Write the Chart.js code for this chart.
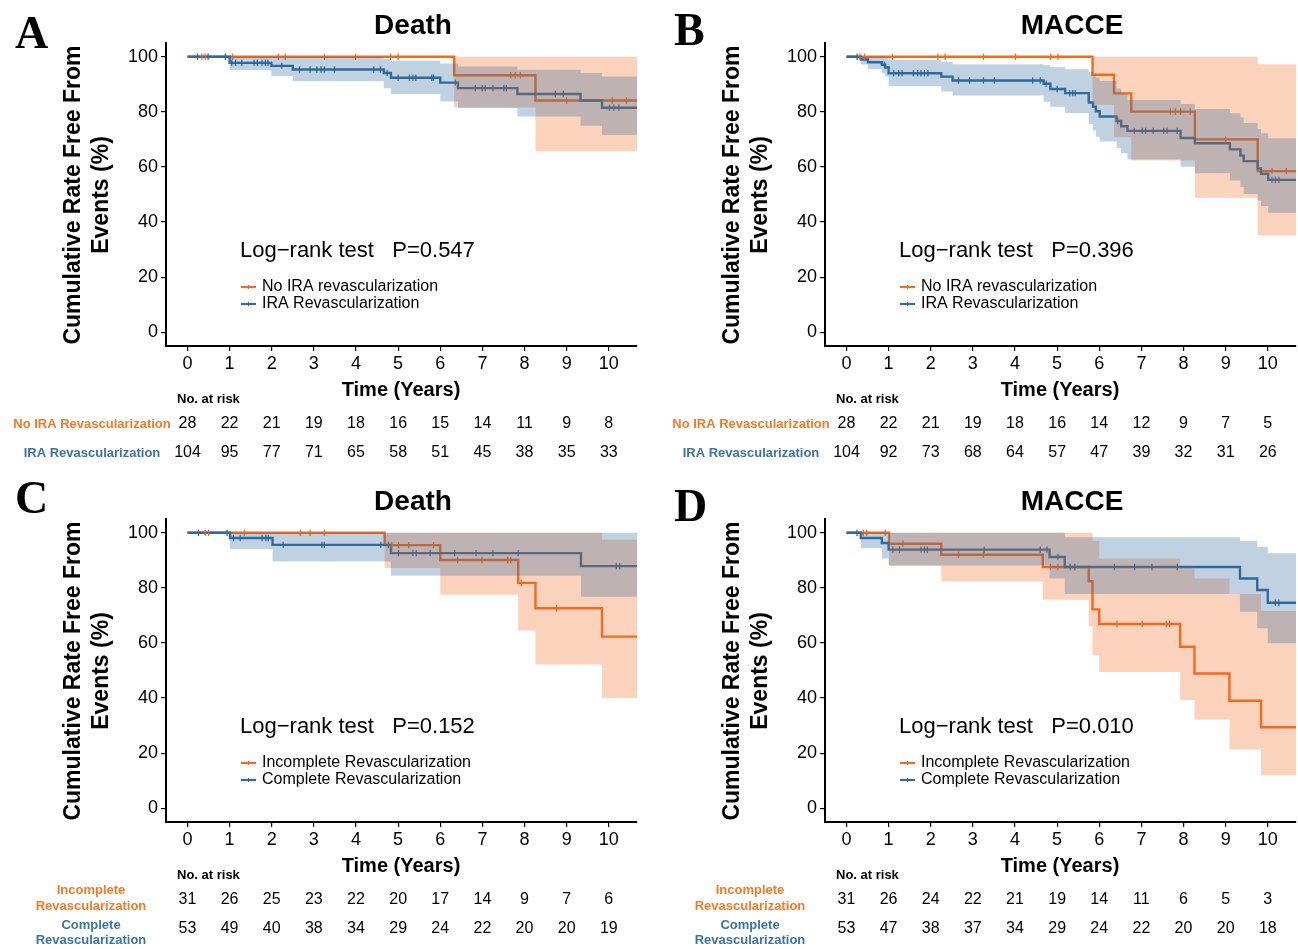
<!DOCTYPE html>
<html>
<head>
<meta charset="utf-8">
<script src="https://cdn.jsdelivr.net/npm/chart.js@4.4.1/dist/chart.umd.min.js"></script>
<style>
  html, body { margin: 0; padding: 0; background: #fff; }
  body { width: 1298px; height: 949px; position: relative; overflow: hidden; }
  canvas { position: absolute; }
</style>
</head>
<body>
<canvas id="cA" width="640" height="476" style="left:0px;top:0px"></canvas>
<canvas id="cB" width="639" height="476" style="left:659px;top:0px"></canvas>
<canvas id="cC" width="640" height="473" style="left:0px;top:476px"></canvas>
<canvas id="cD" width="639" height="473" style="left:659px;top:476px"></canvas>
<script>
// ---------------- DATA ----------------
const xTicks = [0, 1, 2, 3, 4, 5, 6, 7, 8, 9, 10];
const yTicks = [0, 20, 40, 60, 80, 100];

const panelLetters = ['A', 'B', 'C', 'D'];
const panelTitles = ['Death', 'MACCE', 'Death', 'MACCE'];
const pValues = ['0.547', '0.396', '0.152', '0.010'];
const legendIRA = ['No IRA revascularization', 'IRA Revascularization'];
const legendCR = ['Incomplete Revascularization', 'Complete Revascularization'];
const riskLabelsIRA = [['No IRA Revascularization'], ['IRA Revascularization']];
const riskLabelsCR = [['Incomplete', 'Revascularization'], ['Complete', 'Revascularization']];

// Panel A: Death, No IRA (orange) vs IRA (blue)
const A_orange_t = [0, 6.33, 8.26];
const A_orange_s = [100, 93.3, 84.1];
const A_orange_lo = [100, 81.6, 65.7];
const A_orange_hi = [100, 100, 100];
const A_orange_cens = [0.34, 0.42, 1.07, 2.16, 2.32, 3.25, 3.99, 4.82, 5.0, 7.67, 7.78, 7.9, 9.0, 10.08, 10.42];
const A_blue_t = [0, 1.0, 1.99, 2.5, 4.66, 4.83, 6.0, 6.42, 7.83, 9.33, 9.84];
const A_blue_s = [100, 97.8, 96.7, 95.4, 94.1, 92.4, 90.6, 88.6, 86.5, 84.1, 81.5];
const A_blue_lo = [100, 95.2, 93.0, 91.1, 88.6, 86.5, 83.8, 81.4, 78.3, 75.0, 71.6];
const A_blue_hi = [100, 100, 100, 100, 99.2, 98.6, 97.6, 96.5, 95.3, 94.1, 92.8];
const A_blue_cens = [0.24, 0.49, 0.9, 1.05, 1.14, 1.29, 1.58, 1.66, 1.77, 1.85, 1.91, 2.24, 2.66, 2.91, 3.07, 3.17, 3.25, 3.49, 4.42, 4.58, 4.74, 5.0, 5.27, 5.35, 5.42, 5.8, 5.84, 6.36, 6.83, 7.0, 7.07, 7.25, 7.51, 7.57, 8.73, 8.92, 10.02, 10.12, 10.24];
const A_risk_orange = [28, 22, 21, 19, 18, 16, 15, 14, 11, 9, 8];
const A_risk_blue = [104, 95, 77, 71, 65, 58, 51, 45, 38, 35, 33];

// Panel B: MACCE, No IRA (orange) vs IRA (blue)
const B_orange_t = [0, 5.84, 6.35, 6.76, 8.27, 9.76];
const B_orange_s = [100, 93.5, 86.7, 80.1, 70.0, 58.5];
const B_orange_lo = [100, 82.6, 70.8, 62.3, 48.8, 35.1];
const B_orange_hi = [100, 100, 100, 100, 100, 97.3];
const B_orange_cens = [0.32, 0.43, 1.09, 2.17, 2.34, 3.25, 4.01, 4.85, 5.02, 7.69, 7.81, 7.93, 8.16, 9.0, 10.1, 10.44];
const B_blue_t = [0, 0.34, 0.51, 0.84, 0.92, 1.0, 2.25, 2.52, 4.68, 4.84, 5.19, 5.75, 5.85, 5.92, 6.01, 6.41, 6.52, 6.67, 7.93, 8.27, 9.1, 9.35, 9.43, 9.76, 9.84, 10.01];
const B_blue_s = [100, 99.0, 98.0, 97.1, 96.1, 94.0, 92.8, 91.4, 90.2, 88.3, 86.8, 83.4, 81.9, 80.2, 78.3, 76.7, 74.8, 73.1, 70.5, 68.6, 66.4, 64.1, 62.1, 59.5, 57.5, 55.3];
const B_blue_lo = [100, 97.2, 95.5, 94.0, 92.8, 89.3, 87.4, 85.9, 83.7, 81.9, 79.6, 75.6, 73.2, 71.0, 69.2, 66.9, 65.0, 62.7, 60.1, 57.7, 55.1, 52.7, 50.2, 47.8, 45.8, 43.4];
const B_blue_hi = [100, 100, 100, 100, 99.8, 98.8, 98.2, 97.3, 96.9, 96.2, 95.5, 94.6, 93.5, 92.4, 91.2, 88.5, 86.5, 84.3, 82.9, 81.0, 79.5, 78.0, 76.0, 73.8, 72.2, 70.4];
const B_blue_cens = [0.25, 0.9, 1.12, 1.24, 1.32, 1.59, 1.69, 1.77, 1.85, 1.93, 2.66, 2.92, 3.25, 3.51, 4.42, 4.6, 4.74, 5.0, 5.3, 5.37, 5.43, 6.44, 6.83, 7.02, 7.1, 7.28, 7.53, 7.61, 7.85, 10.1, 10.18, 10.26];
const B_risk_orange = [28, 22, 21, 19, 18, 16, 14, 12, 9, 7, 5];
const B_risk_blue = [104, 92, 73, 68, 64, 57, 47, 39, 32, 31, 26];

// Panel C: Death, Incomplete (orange) vs Complete (blue)
const C_orange_t = [0, 4.68, 6.0, 7.85, 8.26, 9.84];
const C_orange_s = [100, 95.5, 90.1, 81.8, 72.6, 62.3];
const C_orange_lo = [100, 87.2, 77.5, 64.5, 52.2, 40.0];
const C_orange_hi = [100, 100, 100, 100, 100, 97.5];
const C_orange_cens = [0.42, 0.5, 1.35, 2.68, 2.91, 3.25, 4.85, 5.01, 5.25, 5.84, 6.41, 6.99, 7.6, 7.67, 7.92, 8.76];
const C_blue_t = [0, 1.01, 2.02, 4.83, 9.34];
const C_blue_s = [100, 98.1, 95.6, 92.6, 87.9];
const C_blue_lo = [100, 94.1, 89.6, 84.4, 76.8];
const C_blue_hi = [100, 100, 100, 100, 100];
const C_blue_cens = [0.26, 0.94, 1.09, 1.25, 1.77, 1.86, 1.92, 2.27, 3.19, 3.25, 4.59, 4.77, 5.01, 5.35, 5.43, 5.76, 6.34, 6.85, 7.25, 7.85, 10.18, 10.26];
const C_risk_orange = [31, 26, 25, 23, 22, 20, 17, 14, 9, 7, 6];
const C_risk_blue = [53, 49, 40, 38, 34, 29, 24, 22, 20, 20, 19];

// Panel D: MACCE, Incomplete (orange) vs Complete (blue)
const D_orange_t = [0, 1.01, 2.25, 4.66, 5.75, 5.84, 6.0, 7.92, 8.26, 9.09, 9.84];
const D_orange_s = [100, 96.0, 92.0, 87.6, 82.4, 72.2, 66.9, 58.6, 48.9, 39.0, 29.4];
const D_orange_lo = [100, 88.0, 82.3, 75.7, 66.0, 55.5, 49.5, 39.3, 32.1, 21.3, 12.0];
const D_orange_hi = [100, 100, 100, 100, 100, 97.0, 90.7, 87.4, 83.4, 77.8, 71.6];
const D_orange_cens = [0.4, 0.48, 0.92, 1.34, 2.66, 3.25, 4.84, 5.02, 6.42, 7.02, 7.59, 7.67];
const D_blue_t = [0, 0.34, 0.84, 1.0, 4.82, 5.18, 9.34, 9.75, 10.0];
const D_blue_s = [100, 98.1, 96.3, 93.9, 91.2, 87.6, 83.4, 79.2, 74.6];
const D_blue_lo = [100, 94.5, 90.7, 88.1, 83.4, 77.8, 71.3, 65.3, 59.9];
const D_blue_hi = [100, 100, 100, 100, 100, 98.4, 97.1, 94.9, 92.6];
const D_blue_cens = [0.25, 1.1, 1.26, 1.77, 1.85, 1.92, 3.27, 4.6, 4.76, 5.02, 5.31, 5.42, 6.36, 6.84, 7.25, 7.85, 10.18, 10.26];
const D_risk_orange = [31, 26, 24, 22, 21, 19, 14, 11, 6, 5, 3];
const D_risk_blue = [53, 47, 38, 37, 34, 29, 24, 22, 20, 20, 18];

// ---------------- STYLE ----------------
const ORANGE = '#F26B1F';
const BLUE = '#2F6B9C';
const ORANGE_BAND = 'rgba(242,107,31,0.3)';
const BLUE_BAND = 'rgba(47,107,156,0.3)';
const ORANGE_TXT = '#F37A2A';
const BLUE_TXT = '#3A74A6';
const FONT = '"Liberation Sans", Arial, Helvetica, sans-serif';
const SERIF = '"Liberation Serif", "Times New Roman", serif';
const X_MIN = -0.51, X_MAX = 10.67, Y_MIN = -5, Y_MAX = 105;
const PLOT_LEFT = 166, PLOT_RIGHT = 637, PLOT_TOP = 43, PLOT_BOTTOM = 346;

function stepPoints(t, v) {
  const pts = t.map((x, i) => ({ x: x, y: v[i] }));
  pts.push({ x: X_MAX, y: v[v.length - 1] });
  return pts;
}
function valueAt(t, v, x) {
  let r = v[0];
  for (let i = 0; i < t.length; i++) if (t[i] <= x) r = v[i];
  return r;
}
function censorPoints(t, v, c) {
  return c.map(x => ({ x: x, y: valueAt(t, v, x) }));
}

function buildDatasets(o, b) {
  const common = { stepped: 'before', pointRadius: 0, tension: 0 };
  return [
    Object.assign({ data: stepPoints(b.t, b.hi), borderWidth: 0, borderColor: 'rgba(0,0,0,0)', backgroundColor: BLUE_BAND, fill: '+1' }, common),
    Object.assign({ data: stepPoints(b.t, b.lo), borderWidth: 0, borderColor: 'rgba(0,0,0,0)', fill: false }, common),
    Object.assign({ data: stepPoints(o.t, o.hi), borderWidth: 0, borderColor: 'rgba(0,0,0,0)', backgroundColor: ORANGE_BAND, fill: '+1' }, common),
    Object.assign({ data: stepPoints(o.t, o.lo), borderWidth: 0, borderColor: 'rgba(0,0,0,0)', fill: false }, common),
    { data: censorPoints(b.t, b.s, b.cens), showLine: false, pointStyle: 'line', pointRotation: 90, pointRadius: 3.2, pointBorderWidth: 1.3, pointBorderColor: BLUE, pointBackgroundColor: BLUE, borderColor: BLUE, fill: false },
    { data: censorPoints(o.t, o.s, o.cens), showLine: false, pointStyle: 'line', pointRotation: 90, pointRadius: 3.2, pointBorderWidth: 1.3, pointBorderColor: ORANGE, pointBackgroundColor: ORANGE, borderColor: ORANGE, fill: false },
    Object.assign({ data: stepPoints(b.t, b.s), borderWidth: 2.4, borderColor: BLUE, fill: false }, common),
    Object.assign({ data: stepPoints(o.t, o.s), borderWidth: 2.4, borderColor: ORANGE, fill: false }, common)
  ];
}

const panelDefs = [
  { canvas: 'cA', letter: panelLetters[0], title: panelTitles[0], p: pValues[0], legend: legendIRA, riskLabels: riskLabelsIRA, letterY: 48,
    o: { t: A_orange_t, s: A_orange_s, lo: A_orange_lo, hi: A_orange_hi, cens: A_orange_cens },
    b: { t: A_blue_t, s: A_blue_s, lo: A_blue_lo, hi: A_blue_hi, cens: A_blue_cens },
    riskO: A_risk_orange, riskB: A_risk_blue },
  { canvas: 'cB', letter: panelLetters[1], title: panelTitles[1], p: pValues[1], legend: legendIRA, riskLabels: riskLabelsIRA, letterY: 45,
    o: { t: B_orange_t, s: B_orange_s, lo: B_orange_lo, hi: B_orange_hi, cens: B_orange_cens },
    b: { t: B_blue_t, s: B_blue_s, lo: B_blue_lo, hi: B_blue_hi, cens: B_blue_cens },
    riskO: B_risk_orange, riskB: B_risk_blue },
  { canvas: 'cC', letter: panelLetters[2], title: panelTitles[2], p: pValues[2], legend: legendCR, riskLabels: riskLabelsCR, letterY: 37,
    o: { t: C_orange_t, s: C_orange_s, lo: C_orange_lo, hi: C_orange_hi, cens: C_orange_cens },
    b: { t: C_blue_t, s: C_blue_s, lo: C_blue_lo, hi: C_blue_hi, cens: C_blue_cens },
    riskO: C_risk_orange, riskB: C_risk_blue },
  { canvas: 'cD', letter: panelLetters[3], title: panelTitles[3], p: pValues[3], legend: legendCR, riskLabels: riskLabelsCR, letterY: 45,
    o: { t: D_orange_t, s: D_orange_s, lo: D_orange_lo, hi: D_orange_hi, cens: D_orange_cens },
    b: { t: D_blue_t, s: D_blue_s, lo: D_blue_lo, hi: D_blue_hi, cens: D_blue_cens },
    riskO: D_risk_orange, riskB: D_risk_blue }
];

const decorPlugin = {
  id: 'decor',
  afterDraw(chart) {
    const pd = chart.options.plugins.decor.panel;
    const ctx = chart.ctx;
    const xs = chart.scales.x;
    ctx.save();
    ctx.fillStyle = '#000';
    // panel letter
    ctx.font = 'bold 46px ' + SERIF;
    ctx.textAlign = 'left'; ctx.textBaseline = 'alphabetic';
    ctx.fillText(pd.letter, 15, pd.letterY);
    // title
    ctx.font = 'bold 28px ' + FONT;
    ctx.textAlign = 'center'; ctx.textBaseline = 'middle';
    ctx.fillText(pd.title, 413, 26);
    // y title
    ctx.save();
    ctx.translate(74, 195);
    ctx.rotate(-Math.PI / 2);
    ctx.font = 'bold 23px ' + FONT;
    ctx.textAlign = 'center'; ctx.textBaseline = 'middle';
    ctx.fillText('Cumulative Rate Free From', 0, 0);
    ctx.fillText('Events (%)', 0, 28);
    ctx.restore();
    // x title
    ctx.font = 'bold 20px ' + FONT;
    ctx.textAlign = 'center'; ctx.textBaseline = 'middle';
    ctx.fillText('Time (Years)', 401, 390);
    // log-rank text
    ctx.font = '22px ' + FONT;
    ctx.textAlign = 'left';
    ctx.fillText('Log\u2212rank test   P=' + pd.p, 240, 251);
    // legend
    ctx.font = '16px ' + FONT;
    const lg = [[ORANGE, 287], [BLUE, 304]];
    for (let i = 0; i < 2; i++) {
      ctx.strokeStyle = lg[i][0];
      ctx.lineWidth = 2.2;
      ctx.beginPath(); ctx.moveTo(241, lg[i][1]); ctx.lineTo(256, lg[i][1]); ctx.stroke();
      ctx.lineWidth = 1;
      ctx.beginPath(); ctx.moveTo(248.5, lg[i][1] - 2); ctx.lineTo(248.5, lg[i][1] + 2); ctx.stroke();
      ctx.fillStyle = '#000';
      ctx.fillText(pd.legend[i], 262, lg[i][1]);
    }
    // risk table
    ctx.font = 'bold 13px ' + FONT;
    ctx.textAlign = 'left';
    ctx.fillText('No. at risk', 177, 399);
    const rows = [[pd.riskO, ORANGE_TXT, 424, [414, 430]], [pd.riskB, BLUE_TXT, 453, [449, 464]]];
    for (let r = 0; r < 2; r++) {
      const lbl = pd.riskLabels[r];
      ctx.font = 'bold 13px ' + FONT;
      ctx.fillStyle = rows[r][1];
      ctx.textAlign = 'center';
      if (lbl.length === 1) {
        ctx.fillText(lbl[0], 92, rows[r][2]);
      } else {
        ctx.fillText(lbl[0], 91, rows[r][3][0]);
        ctx.fillText(lbl[1], 91, rows[r][3][1]);
      }
      ctx.font = '16px ' + FONT;
      ctx.fillStyle = '#000';
      rows[r][0].forEach((n, i) => {
        ctx.fillText(String(n), xs.getPixelForValue(xTicks[i]), rows[r][2]);
      });
    }
    ctx.restore();
  }
};

panelDefs.forEach(pd => {
  const cv = document.getElementById(pd.canvas);
  const W = cv.width, H = cv.height;
  new Chart(cv.getContext('2d'), {
    type: 'line',
    data: { datasets: buildDatasets(pd.o, pd.b) },
    plugins: [decorPlugin],
    options: {
      responsive: false,
      animation: false,
      devicePixelRatio: 1,
      layout: { autoPadding: false, padding: { left: 0, top: PLOT_TOP, right: W - PLOT_RIGHT, bottom: 0 } },
      plugins: {
        legend: { display: false },
        tooltip: { enabled: false },
        title: { display: false },
        decor: { panel: pd }
      },
      elements: { line: { borderJoinStyle: 'miter', borderCapStyle: 'butt' } },
      scales: {
        x: {
          type: 'linear', min: X_MIN, max: X_MAX,
          afterBuildTicks: s => { s.ticks = xTicks.map(v => ({ value: v })); },
          afterFit: s => { s.height = H - PLOT_BOTTOM; s.paddingLeft = 0; s.paddingRight = 0; },
          grid: { drawOnChartArea: false, drawTicks: true, tickLength: 5, color: '#000', lineWidth: 1.2 },
          border: { display: true, color: '#000', width: 2 },
          ticks: { color: '#000', font: { family: FONT, size: 18 }, padding: 2, maxRotation: 0, autoSkip: false, callback: v => String(v) }
        },
        y: {
          type: 'linear', min: Y_MIN, max: Y_MAX,
          afterBuildTicks: s => { s.ticks = yTicks.map(v => ({ value: v })); },
          afterFit: s => { s.width = PLOT_LEFT; s.paddingTop = 0; s.paddingBottom = 0; },
          grid: { drawOnChartArea: false, drawTicks: true, tickLength: 5, color: '#000', lineWidth: 1.2 },
          border: { display: true, color: '#000', width: 2 },
          ticks: { color: '#000', font: { family: FONT, size: 18 }, padding: 3, autoSkip: false, callback: v => String(v) }
        }
      }
    }
  });
});
</script>
</body>
</html>
